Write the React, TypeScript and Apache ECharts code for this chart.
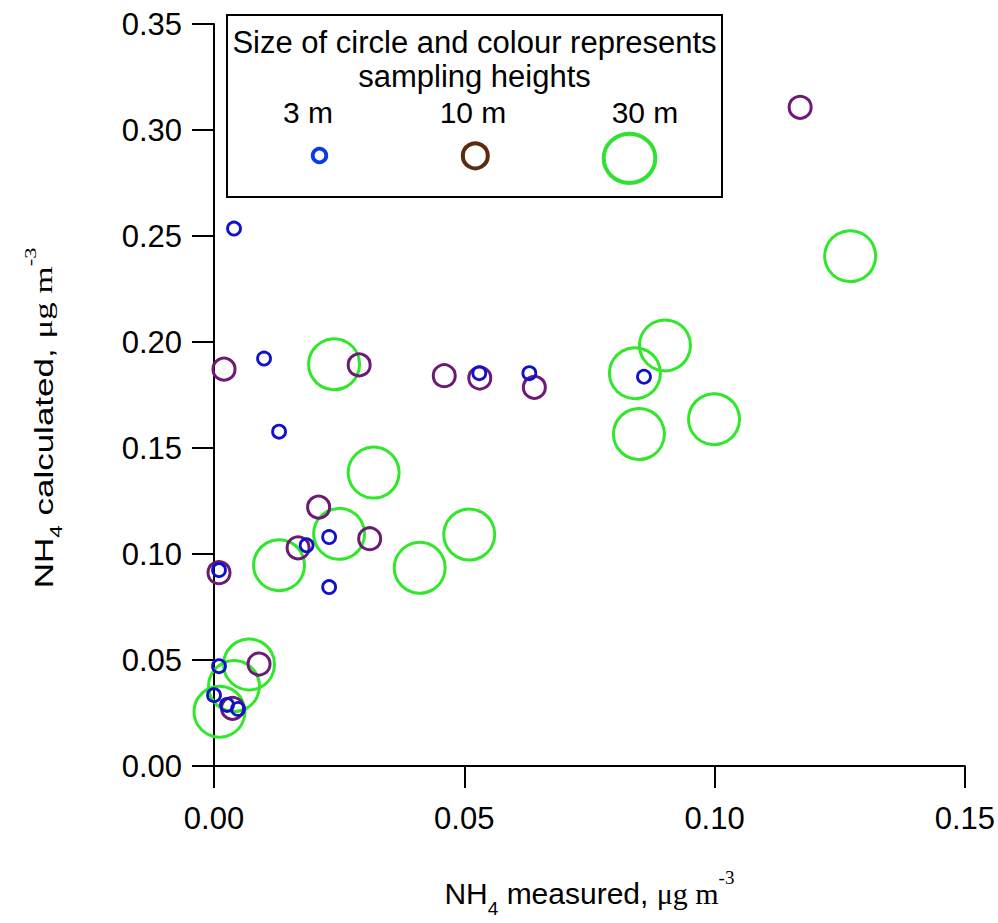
import React, { useEffect, useRef } from 'react';
import * as echarts from 'echarts';

// NH4 measured (x) and NH4 calculated (y), µg m-3, per sampling height
const h3mX = [0.0040, 0.0100, 0.0130, 0.0185, 0.0230, 0.0230, 0.0010, 0.0010, 0.0000, 0.0026, 0.0048, 0.0530, 0.0630, 0.0859];
const h3mY = [0.2535, 0.1922, 0.1577, 0.1041, 0.1080, 0.0844, 0.0924, 0.0471, 0.0334, 0.0288, 0.0269, 0.1853, 0.1853, 0.1836];

const h10mX = [0.0010, 0.0168, 0.0311, 0.0209, 0.0090, 0.0037, 0.0020, 0.0290, 0.0460, 0.0531, 0.0640, 0.1171];
const h10mY = [0.0912, 0.1029, 0.1072, 0.1221, 0.0481, 0.0272, 0.1872, 0.1892, 0.1841, 0.1830, 0.1786, 0.3107];

const h30mX = [0.0011, 0.0040, 0.0070, 0.0130, 0.0250, 0.0240, 0.0319, 0.0411, 0.0510, 0.0841, 0.0901, 0.0849, 0.0999, 0.1271];
const h30mY = [0.0256, 0.0377, 0.0479, 0.0947, 0.1095, 0.1895, 0.1384, 0.0935, 0.1092, 0.1853, 0.1984, 0.1566, 0.1636, 0.2405];

const heightLabels = ['3 m', '10 m', '30 m'];
const legendTitle = ['Size of circle and colour represents', 'sampling heights'];

const zip = (xs: number[], ys: number[]) => xs.map((x, i) => [x, ys[i]]);

const SANS = '"Liberation Sans", Arial, sans-serif';
const SERIF = '"Liberation Serif", "Times New Roman", serif';

const W = 998;
const H = 923;

export default function App() {
  const ref = useRef<HTMLDivElement>(null);
  useEffect(() => {
    const chart = echarts.init(ref.current!, null, { renderer: 'svg', width: W, height: H });
    const scatterStyle = (color: string, size: number, width: number) => ({
      type: 'scatter' as const,
      symbol: 'circle',
      symbolSize: size,
      itemStyle: { color: 'rgba(0,0,0,0)', borderColor: color, borderWidth: width, opacity: 1 },
      emphasis: { disabled: true },
    });
    const option: any = {
      animation: false,
      backgroundColor: '#ffffff',
      grid: { left: 214, right: 33, top: 24, bottom: 148, containLabel: false },
      xAxis: {
        type: 'value',
        min: 0,
        max: 0.15,
        interval: 0.05,
        splitLine: { show: false },
        axisLine: { onZero: false, lineStyle: { color: '#000', width: 2 } },
        axisTick: { length: 22, lineStyle: { color: '#000', width: 2 } },
        axisLabel: {
          margin: 37,
          fontSize: 31,
          fontFamily: SANS,
          color: '#000',
          formatter: (v: number) => v.toFixed(2),
        },
        name: '{s|NH}{sub|4}{s| measured, }{r|μg m}{sup|-3}',
        nameLocation: 'middle',
        nameGap: 102,
        nameTextStyle: {
          rich: {
            s: { fontSize: 30, fontFamily: SANS, color: '#000', lineHeight: 50 },
            sub: { fontSize: 19, fontFamily: SANS, color: '#000', lineHeight: 30, verticalAlign: 'bottom' },
            r: { fontSize: 30, fontFamily: SERIF, color: '#000', lineHeight: 50 },
            sup: { fontSize: 19, fontFamily: SERIF, color: '#000', lineHeight: 19, verticalAlign: 'top' },
          },
        },
      },
      yAxis: {
        type: 'value',
        min: 0,
        max: 0.35,
        interval: 0.05,
        splitLine: { show: false },
        axisLine: { onZero: false, lineStyle: { color: '#000', width: 2 } },
        axisTick: { length: 22, lineStyle: { color: '#000', width: 2 } },
        axisLabel: {
          margin: 32,
          fontSize: 31,
          fontFamily: SANS,
          color: '#000',
          formatter: (v: number) => v.toFixed(2),
        },
      },
      series: [
        { name: heightLabels[2], data: zip(h30mX, h30mY), ...scatterStyle('#30e82a', 51, 3), z: 2 },
        { name: heightLabels[1], data: zip(h10mX, h10mY), ...scatterStyle('#6c1a75', 22, 3), z: 3 },
        { name: heightLabels[0], data: zip(h3mX, h3mY), ...scatterStyle('#1111cc', 13, 2.8), z: 4 },
      ],
      graphic: [
        {
          type: 'text',
          x: 43.5,
          y: 418,
          rotation: Math.PI / 2,
          scaleX: 1.4,
          style: {
            text: '{s|NH}{sub|4}{s| calculated, }{r|μg m}{sup|-3}',
            align: 'center',
            verticalAlign: 'middle',
            rich: {
              s: { fontSize: 25, fontFamily: SANS, fill: '#000', lineHeight: 42 },
              sub: { fontSize: 16, fontFamily: SANS, fill: '#000', lineHeight: 25, verticalAlign: 'bottom' },
              r: { fontSize: 25, fontFamily: SERIF, fill: '#000', lineHeight: 42 },
              sup: { fontSize: 16, fontFamily: SERIF, fill: '#000', lineHeight: 16, verticalAlign: 'top' },
            },
          },
        },
        {
          type: 'rect',
          z: 10,
          shape: { x: 227, y: 15, width: 495, height: 182 },
          style: { fill: '#ffffff', stroke: '#000', lineWidth: 2 },
        },
        {
          type: 'text', z: 11, x: 474.5, y: 42,
          style: { text: legendTitle[0], fontSize: 31, fontFamily: SANS, fill: '#000', align: 'center', verticalAlign: 'middle' },
        },
        {
          type: 'text', z: 11, x: 474.5, y: 76,
          style: { text: legendTitle[1], fontSize: 31, fontFamily: SANS, fill: '#000', align: 'center', verticalAlign: 'middle' },
        },
        {
          type: 'text', z: 11, x: 308, y: 112,
          style: { text: heightLabels[0], fontSize: 30, fontFamily: SANS, fill: '#000', align: 'center', verticalAlign: 'middle' },
        },
        {
          type: 'text', z: 11, x: 473, y: 112,
          style: { text: heightLabels[1], fontSize: 30, fontFamily: SANS, fill: '#000', align: 'center', verticalAlign: 'middle' },
        },
        {
          type: 'text', z: 11, x: 645, y: 112,
          style: { text: heightLabels[2], fontSize: 30, fontFamily: SANS, fill: '#000', align: 'center', verticalAlign: 'middle' },
        },
        {
          type: 'circle', z: 11,
          shape: { cx: 319.5, cy: 155.5, r: 6.8 },
          style: { fill: 'none', stroke: '#0a3ae6', lineWidth: 3.8 },
        },
        {
          type: 'circle', z: 11,
          shape: { cx: 475.3, cy: 155.8, r: 12.5 },
          style: { fill: 'none', stroke: '#5c2a0e', lineWidth: 4 },
        },
        {
          type: 'ellipse', z: 11,
          shape: { cx: 629.5, cy: 158.3, rx: 25.8, ry: 24.6 },
          style: { fill: 'none', stroke: '#2ee22e', lineWidth: 4 },
        },
      ],
    };
    chart.setOption(option);
    return () => chart.dispose();
  }, []);
  return (
    <div
      ref={ref}
      style={{ position: 'absolute', left: 0, top: 0, width: W, height: H }}
    />
  );
}
